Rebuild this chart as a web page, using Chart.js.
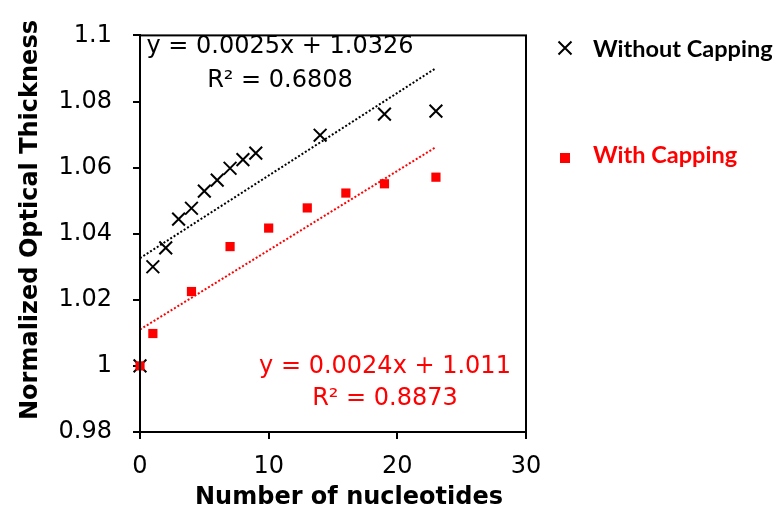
<!DOCTYPE html>
<html>
<head>
<meta charset="utf-8">
<script src="https://cdn.jsdelivr.net/npm/chart.js@4.4.1/dist/chart.umd.min.js"></script>
<style>
  html, body { margin: 0; padding: 0; background: #ffffff; }
  #wrap { width: 776px; height: 512px; position: relative; }
</style>
</head>
<body>
<div id="wrap"><canvas id="c" width="776" height="512"></canvas></div>
<script>
// ---- data ----
const withoutCappingX = [0, 1, 2, 3, 4, 5, 6, 7, 8, 9, 14, 19, 23];
const withoutCappingY = [1.000, 1.030, 1.0357, 1.0444, 1.0477, 1.0529, 1.0562, 1.0598, 1.0624, 1.0644, 1.0698, 1.0762, 1.0771];
const withCappingX = [0, 1, 4, 7, 10, 13, 16, 19, 23];
const withCappingY = [1.000, 1.0098, 1.0225, 1.0361, 1.0417, 1.0478, 1.0523, 1.0551, 1.0571];
const fitWithout = { slope: 0.0025, intercept: 1.0326, r2: '0.6808' };
const fitWith = { slope: 0.0024, intercept: 1.011, r2: '0.8873' };
const trendX = [0, 23];
const xTicks = [0, 10, 20, 30];
const xTickLabels = ['0', '10', '20', '30'];
const yTicks = [0.98, 1.0, 1.02, 1.04, 1.06, 1.08, 1.1];
const yTickLabels = ['0.98', '1', '1.02', '1.04', '1.06', '1.08', '1.1'];
const seriesNames = ['Without Capping', 'With Capping'];
const xTitle = 'Number of nucleotides';
const yTitle = 'Normalized Optical Thickness';

const RED = '#FF0000';
const BLACK = '#000000';
const toPts = (xs, ys) => xs.map((x, i) => ({ x: x, y: ys[i] }));
const trend = (f) => trendX.map(x => ({ x: x, y: f.intercept + f.slope * x }));
const eqText = (f) => 'y = ' + f.slope + 'x + ' + f.intercept;

const overlay = {
  id: 'overlay',
  afterDraw(chart) {
    const ctx = chart.ctx;
    const a = chart.chartArea;
    ctx.save();
    // frame
    ctx.strokeStyle = BLACK;
    ctx.lineWidth = 2;
    ctx.strokeRect(a.left, a.top, a.right - a.left, a.bottom - a.top);

    // equations
    ctx.textAlign = 'center';
    ctx.textBaseline = 'middle';
    ctx.font = '24px "DejaVu Sans"';
    ctx.fillStyle = BLACK;
    ctx.fillText(eqText(fitWithout), 280, 47);
    ctx.fillText('R\u00B2 = ' + fitWithout.r2, 280, 81);
    ctx.fillStyle = RED;
    ctx.fillText(eqText(fitWith), 385, 367);
    ctx.fillText('R\u00B2 = ' + fitWith.r2, 385, 399);

    // axis titles
    ctx.fillStyle = BLACK;
    ctx.font = 'bold 24px "DejaVu Sans"';
    ctx.fillText(xTitle, 349, 498);
    ctx.save();
    ctx.translate(31, 220);
    ctx.rotate(-Math.PI / 2);
    ctx.fillText(yTitle, 0, 0);
    ctx.restore();

    // legend
    ctx.textAlign = 'left';
    ctx.font = 'bold 23.5px Lato';
    ctx.fillStyle = BLACK;
    ctx.strokeStyle = BLACK;
    ctx.lineWidth = 2;
    const cx = 565, cy = 48, h = 6.5;
    ctx.beginPath();
    ctx.moveTo(cx - h, cy - h); ctx.lineTo(cx + h, cy + h);
    ctx.moveTo(cx - h, cy + h); ctx.lineTo(cx + h, cy - h);
    ctx.stroke();
    ctx.fillText(seriesNames[0], 593, 49);
    ctx.fillStyle = RED;
    ctx.fillRect(560, 153, 10, 10);
    ctx.fillText(seriesNames[1], 593, 155);
    ctx.restore();
  }
};

new Chart(document.getElementById('c'), {
  type: 'scatter',
  data: {
    datasets: [
      {
        label: seriesNames[1],
        data: toPts(withCappingX, withCappingY),
        pointStyle: 'rect',
        pointRadius: 6.5,
        pointHoverRadius: 6.5,
        backgroundColor: RED,
        borderColor: RED,
        borderWidth: 0,
        clip: false,
        order: 0
      },
      {
        label: seriesNames[0],
        data: toPts(withoutCappingX, withoutCappingY),
        pointStyle: 'crossRot',
        pointRadius: 9,
        pointHoverRadius: 9,
        borderColor: BLACK,
        backgroundColor: BLACK,
        borderWidth: 2,
        clip: false,
        order: 1
      },
      {
        label: 'fit ' + seriesNames[0],
        data: trend(fitWithout),
        showLine: true,
        pointRadius: 0,
        borderColor: BLACK,
        borderWidth: 2,
        borderDash: [2, 2],
        order: 2
      },
      {
        label: 'fit ' + seriesNames[1],
        data: trend(fitWith),
        showLine: true,
        pointRadius: 0,
        borderColor: RED,
        borderWidth: 2,
        borderDash: [2, 2],
        order: 3
      }
    ]
  },
  options: {
    responsive: false,
    animation: false,
    events: [],
    layout: { padding: { top: 24, right: 250, bottom: 0, left: 0 } },
    plugins: { legend: { display: false }, tooltip: { enabled: false } },
    scales: {
      x: {
        type: 'linear',
        min: 0, max: 30,
        afterBuildTicks: (s) => { s.ticks = xTicks.map(v => ({ value: v })); },
        afterFit: (s) => { s.height = 80; },
        ticks: {
          callback: (v) => xTickLabels[xTicks.indexOf(v)],
          color: BLACK,
          font: { family: '"DejaVu Sans"', size: 24 },
          padding: 13,
          maxRotation: 0
        },
        grid: { drawOnChartArea: false, drawTicks: true, tickLength: 7, color: BLACK, lineWidth: 2 },
        border: { display: true, color: BLACK, width: 2 }
      },
      y: {
        type: 'linear',
        min: 0.98, max: 1.1,
        afterBuildTicks: (s) => { s.ticks = yTicks.map(v => ({ value: v })); },
        afterFit: (s) => { s.width = 140; },
        ticks: {
          callback: (v) => yTickLabels[yTicks.findIndex(t => Math.abs(t - v) < 1e-9)],
          color: BLACK,
          font: { family: '"DejaVu Sans"', size: 24 },
          padding: 21
        },
        grid: { drawOnChartArea: false, drawTicks: true, tickLength: 7, color: BLACK, lineWidth: 2 },
        border: { display: true, color: BLACK, width: 2 }
      }
    }
  },
  plugins: [overlay]
});
</script>
</body>
</html>
